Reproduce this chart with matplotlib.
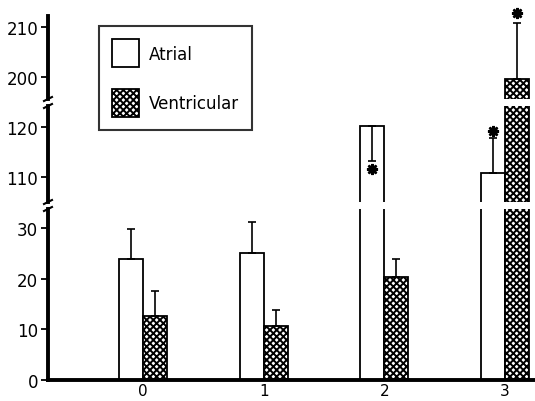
import matplotlib
matplotlib.use("Agg")
import matplotlib.pyplot as plt
from matplotlib.patches import Patch

plt.rcParams['font.family'] = ['DejaVu Sans']
plt.rcParams['hatch.linewidth'] = 1.4

categories = ["0", "1", "2", "3"]
atrial = [23.9, 25.0, 120.2, 110.8]
atrial_err_low = [0, 0, 7.0, 0]
atrial_err_high = [5.9, 6.2, 0, 7.0]
ventricular = [12.6, 10.6, 20.3, 199.6]
ventricular_err_high = [5.0, 3.2, 3.6, 11.2]
# asterisks: (category index, series, y value)
stars = [(2, "atrial", 111.6), (3, "atrial", 119.3), (3, "ventricular", 212.8)]

W, H = 535, 402
fig = plt.figure(figsize=(W / 100, H / 100), dpi=100)

left = 48 / W
width = (535 - 48) / W
# pixel extents of the three segments (top, bottom in pixels from top)
segments = [(17, 100, 195.6, 212.2), (107, 203, 105.0, 124.2), (210, 381, 0, 33.7)]
axes = []
for top, bot, lo, hi in segments:
    ax = fig.add_axes([left, 1 - bot / H, width, (bot - top) / H])
    ax.set_ylim(lo, hi)
    ax.set_xlim(-0.79, 3.25)
    axes.append(ax)

bw = 0.2
xs = list(range(len(categories)))
xa = [x - bw / 2 for x in xs]
xv = [x + bw / 2 for x in xs]

for ax in axes:
    ax.bar(xa, atrial, bw, color="white", edgecolor="black", linewidth=1.3, zorder=2)
    ax.bar(xv, ventricular, bw, color="white", edgecolor="black", hatch="xxxxx",
           linewidth=1.3, zorder=2)
    ax.errorbar(xa, atrial, yerr=[atrial_err_low, atrial_err_high], fmt="none",
                ecolor="black", elinewidth=1.2, capsize=3, capthick=1.2, zorder=3)
    ax.errorbar(xv, ventricular, yerr=[[0] * 4, ventricular_err_high], fmt="none",
                ecolor="black", elinewidth=1.2, capsize=3, capthick=1.2, zorder=3)
    for spine in ["top", "right", "bottom"]:
        ax.spines[spine].set_visible(False)
    ax.spines["left"].set_linewidth(2.8)
    ax.tick_params(axis="y", direction="out", length=5, width=1.3, labelsize=12, pad=2)
    ax.tick_params(axis="x", length=0)
    ax.set_xticks([])
    ax.patch.set_visible(False)

for ci, series, yv in stars:
    x = xa[ci] if series == "atrial" else xv[ci]
    for ax in axes:
        lo, hi = ax.get_ylim()
        if lo <= yv <= hi + 2:
            ax.plot(x, yv, marker=(8, 2, 0), markersize=8, color="black",
                    markeredgewidth=1.8, clip_on=False, zorder=4)

axes[0].set_yticks([200, 210])
axes[1].set_yticks([110, 120])
axes[2].set_yticks([0, 10, 20, 30])

bottom_ax = axes[2]
bottom_ax.spines["bottom"].set_visible(True)
bottom_ax.spines["bottom"].set_linewidth(2.8)
bottom_ax.set_xticks(xs)
bottom_ax.set_xticklabels(categories)
bottom_ax.tick_params(axis="x", labelsize=11, pad=2)

# break marks on the y axis
for ypix in [100, 107, 203, 210]:
    yf = 1 - ypix / H
    fig.lines.append(plt.Line2D([left - 4 / W, left + 4 / W], [yf - 2 / H, yf + 2 / H],
                                transform=fig.transFigure, color="black", linewidth=1.5))

handles = [Patch(facecolor="white", edgecolor="black", linewidth=1.3, label="Atrial"),
           Patch(facecolor="white", edgecolor="black", hatch="xxxxx", linewidth=1.3,
                 label="Ventricular")]
leg = fig.legend(handles=handles, loc="upper left", bbox_to_anchor=(99 / W, 1 - 27 / H),
                 frameon=True, fancybox=False, edgecolor="black", fontsize=12,
                 handlelength=1.6, handleheight=2.2, labelspacing=1.3, borderpad=0.8,
                 handletextpad=0.6, borderaxespad=0)
leg.get_frame().set_linewidth(1.5)

fig.savefig("out.png", dpi=100)
